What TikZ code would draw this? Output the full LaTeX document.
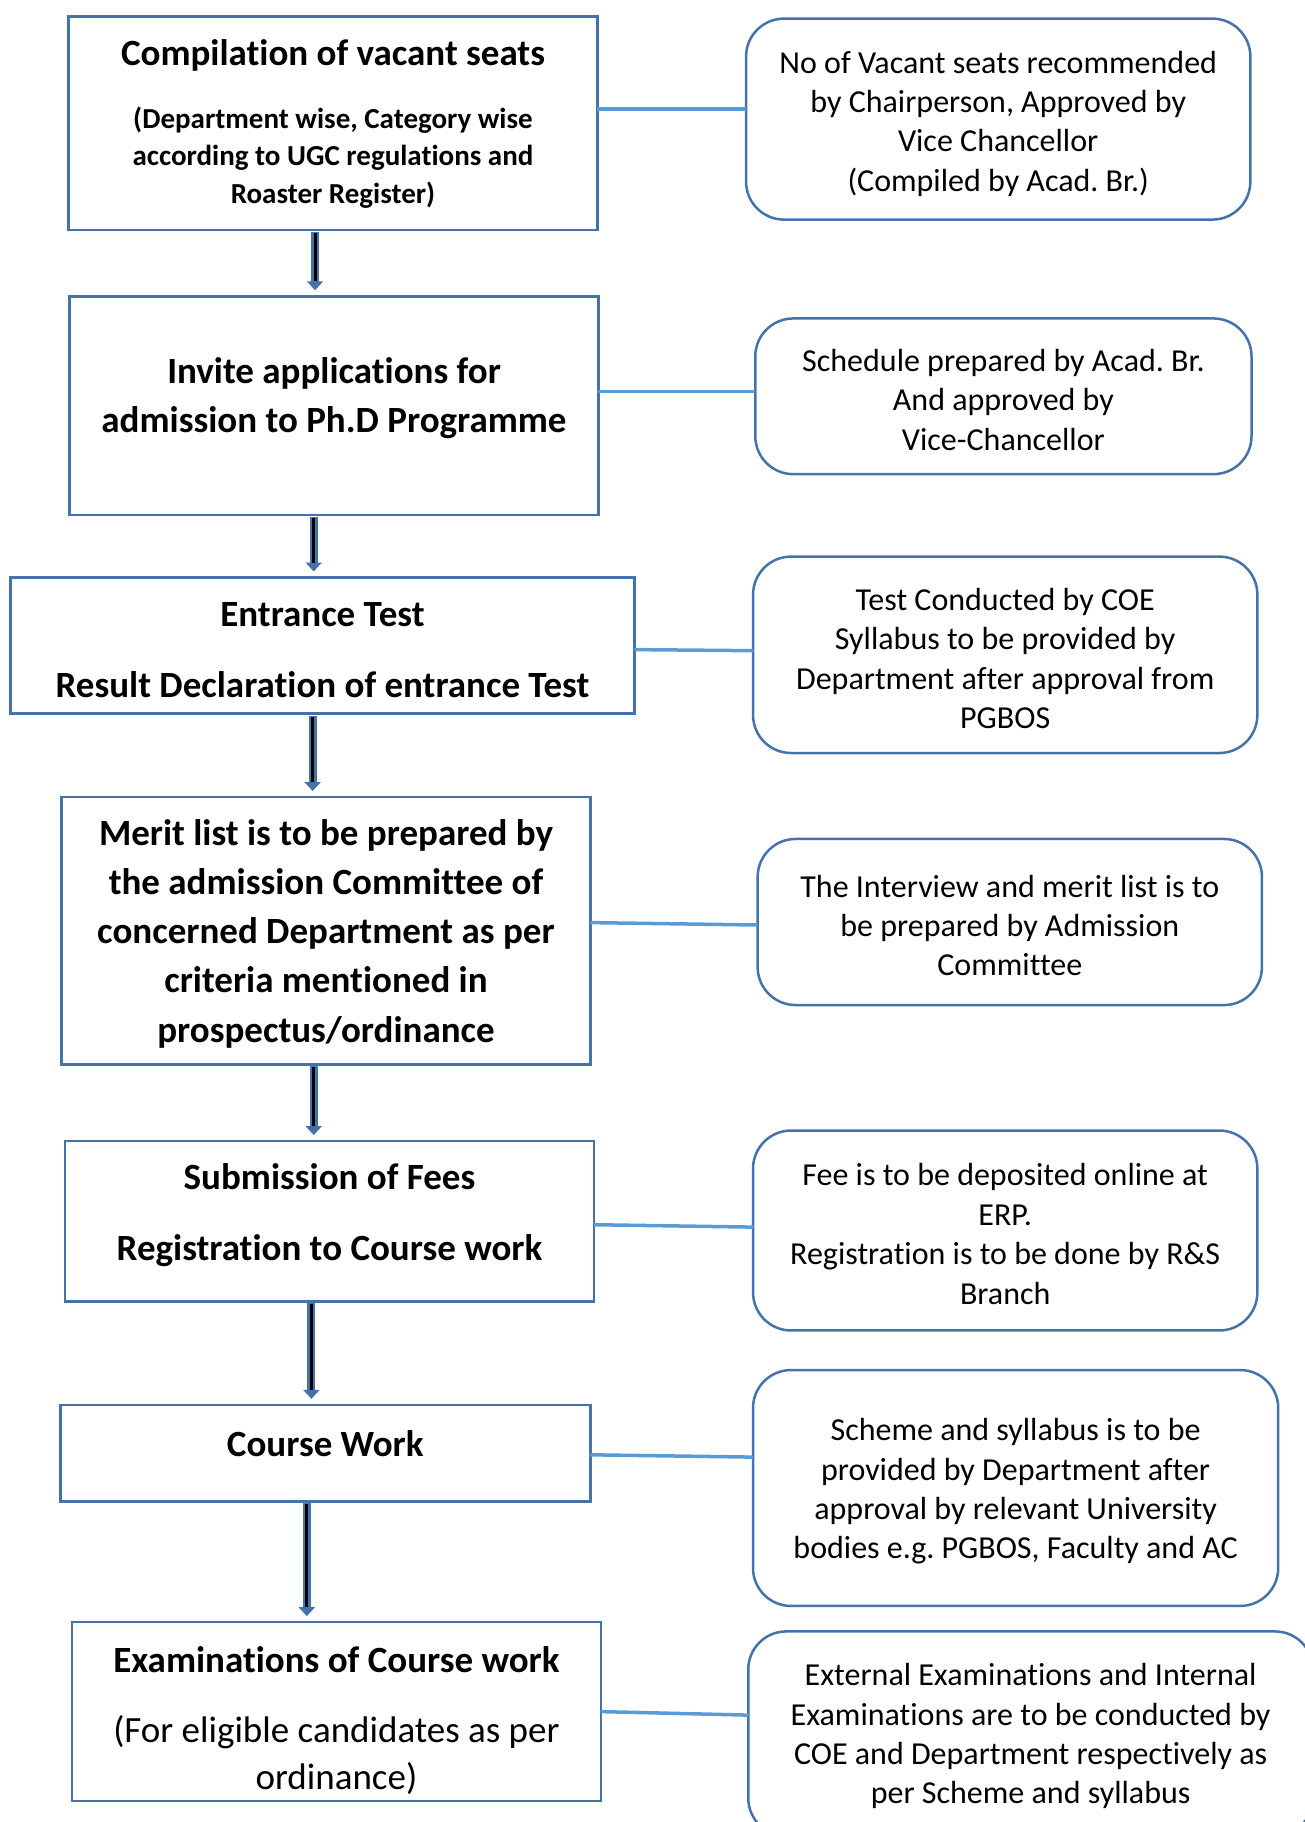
\documentclass[tikz,border=0pt]{standalone}
\usepackage{fontspec}
\setmainfont{Carlito}[Ligatures=NoCommon]
\usetikzlibrary{calc,arrows.meta}
\definecolor{boxblue}{RGB}{70,114,170}
\definecolor{connblue}{RGB}{91,155,213}
\definecolor{arrblue}{RGB}{70,114,170}
\newcommand\rfont{\fontsize{32}{39.4}\selectfont}
\frenchspacing
\tikzset{
  lbox/.style={draw=boxblue, line width=2.5pt, inner sep=0pt, outer sep=0pt},
  rbox/.style={draw=boxblue, line width=2.5pt, rounded corners=38pt, inner sep=0pt, outer sep=0pt},
  rtext/.style={align=center, inner sep=0pt, font=\rfont},
  ttl/.style={align=center, inner sep=0pt, font=\fontsize{37}{48.8}\selectfont\bfseries},
  conn/.style={draw=connblue, line width=3.5pt},
  arrout/.style={draw=arrblue, line width=8pt, -{Triangle[width=16pt,length=9pt]}},
  arrin/.style={draw=black, line width=3pt},
}
\begin{document}
\frenchspacing
\begin{tikzpicture}[x=1pt,y=-1pt]
\useasboundingbox (0,0) rectangle (1305,1822);
\clip (0,0) rectangle (1305,1822);
% left boxes
\node[lbox, minimum width=528.7pt, minimum height=213.8pt] (l1) at (333,123.2) {};
\node[lbox, minimum width=528.7pt, minimum height=218.5pt] (l2) at (334,405.5) {};
\node[lbox, minimum width=624pt, minimum height=136pt] (l3) at (322.5,645.5) {};
\node[lbox, minimum width=528.7pt, minimum height=267.3pt] (l4) at (326,930.7) {};
\node[lbox, minimum width=528.7pt, minimum height=160.3pt] (l5) at (329.5,1221.2) {};
\node[lbox, minimum width=529.9pt, minimum height=96.4pt] (l6) at (325.3,1453.1) {};
\node[lbox, minimum width=528.8pt, minimum height=178.9pt] (l7) at (336.4,1711.6) {};
% left texts
\node[ttl] (t1a) at (333,55) {Compilation of vacant seats};
\node[align=center, inner sep=0pt, font=\fontsize{29}{37.7}\selectfont\bfseries] (t1b) at (333,157.5) {(Department wise, Category wise\\according to UGC regulations and\\Roaster Register)};
\node[ttl] (t2) at (334,398.5) {Invite applications for\\admission to Ph.D Programme};
\node[ttl, font=\fontsize{37}{70.9}\selectfont\bfseries] (t3) at (322.5,650) {Entrance Test\\Result Declaration of entrance Test};
\node[ttl, font=\fontsize{37}{49.1}\selectfont\bfseries] (t4) at (326,933.8) {Merit list is to be prepared by\\the admission Committee of\\concerned Department as per\\criteria mentioned in\\prospectus/ordinance};
\node[ttl, font=\fontsize{37}{70.9}\selectfont\bfseries] (t5) at (329.5,1215) {Submission of Fees\\Registration to Course work};
\node[ttl] (t6) at (325.3,1444) {Course Work};
\node[ttl] (t7a) at (336.4,1660) {Examinations of Course work};
\node[align=center, inner sep=0pt, font=\fontsize{37}{47.7}\selectfont] (t7b) at (336.4,1755) {(For eligible candidates as per\\ordinance)};
% right boxes
\node[rbox, minimum width=504.3pt, minimum height=201pt] (r1) at (998.2,119.1) {};
\node[rbox, minimum width=496.2pt, minimum height=155.7pt] (r2) at (1003.4,396.3) {};
\node[rbox, minimum width=504.3pt, minimum height=196.4pt] (r3) at (1005.2,654.8) {};
\node[rbox, minimum width=504.3pt, minimum height=166.1pt] (r4) at (1009.8,922) {};
\node[rbox, minimum width=504.3pt, minimum height=199.9pt] (r5) at (1005.2,1230.5) {};
\node[rbox, minimum width=525.2pt, minimum height=235.9pt] (r6) at (1015.6,1488) {};
\node[rbox, minimum width=564.7pt, minimum height=204.6pt] (r7) at (1030.6,1733.7) {};
% right texts
\node[rtext] (s1) at ($(r1)+(0,4.5)$) {No of Vacant seats recommended\\by Chairperson, Approved by\\Vice Chancellor\\(Compiled by Acad. Br.)};
\node[rtext] (s2) at ($(r2)+(0,3.5)$) {Schedule prepared by Acad. Br.\\And approved by\\Vice-Chancellor};
\node[rtext] (s3) at ($(r3)+(0,3.5)$) {Test Conducted by COE\\Syllabus to be provided by\\Department after approval from\\PGBOS};
\node[rtext] (s4) at ($(r4)+(0,3.5)$) {The Interview and merit list is to\\be prepared by Admission\\Committee};
\node[rtext] (s5) at ($(r5)+(0,3.5)$) {Fee is to be deposited online at\\ERP.\\Registration is to be done by R\&S\\Branch};
\node[rtext] (s6) at ($(r6)+(0,3.5)$) {Scheme and syllabus is to be\\provided by Department after\\approval by relevant University\\bodies e.g. PGBOS, Faculty and AC};
\node[rtext] (s7) at ($(r7)+(0,2.5)$) {External Examinations and Internal\\Examinations are to be conducted by\\COE and Department respectively as\\per Scheme and syllabus};
% connectors
\draw[conn] (l1.east |- 0,109.2) -- (r1.west |- 0,109.2);
\draw[conn] (l2.east |- 0,391.6) -- (r2.west |- 0,391.6);
\draw[conn] (l3.east |- 0,649.6) -- (r3.west |- 0,650.7);
\draw[conn] (l4.east |- 0,922.6) -- (r4.west |- 0,925);
\draw[conn] (l5.east |- 0,1224.7) -- (r5.west |- 0,1227.1);
\draw[conn] (l6.east |- 0,1454.8) -- (r6.west |- 0,1457.1);
\draw[conn] (l7.east |- 0,1711.6) -- (r7.west |- 0,1715.1);
% down arrows
\foreach \a/\b/\x in {l1/l2/315, l2/l3/313.7, l3/l4/312.6, l4/l5/313.7, l5/l6/311.4, l6/l7/306.8}{
  \draw[arrout] ($(\a.south -| \x,0)+(0,2)$) -- ($(\b.north -| \x,0)+(0,-6)$);
  \draw[arrin] ($(\a.south -| \x,0)+(0,3)$) -- ($(\b.north -| \x,0)+(0,-15)$);
}
\end{tikzpicture}
\end{document}
